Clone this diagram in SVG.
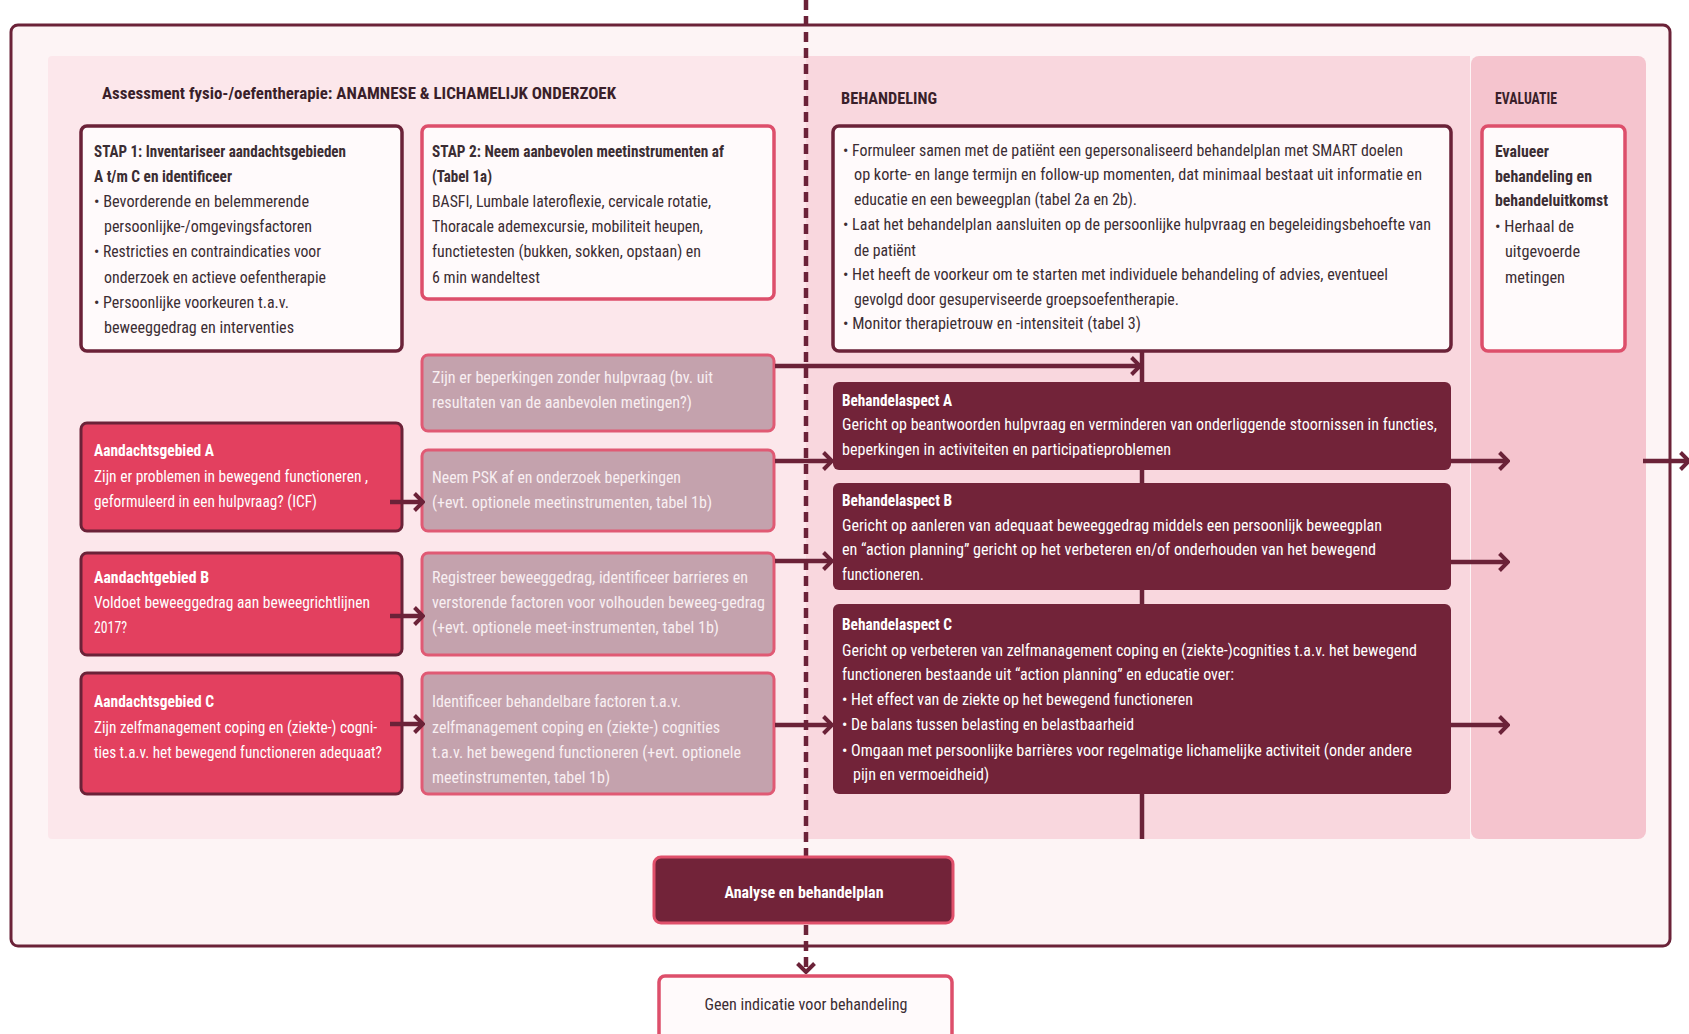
<svg xmlns="http://www.w3.org/2000/svg" width="1689" height="1034" viewBox="0 0 1689 1034">
<style>
text{font-family:"Liberation Sans Narrow","Roboto Condensed","DejaVu Sans Condensed","Liberation Sans",sans-serif;font-size:17px;fill:#3b2d33}
.b{font-weight:bold}
.h{font-size:16px;font-weight:bold;fill:#3a1f2a}
.w{fill:#ffffff}
.g{fill:#f8eff2}
.box-w{fill:#fffafb;stroke-width:3.5}
.dk{stroke:#6b2238}
.pk{stroke:#dd4f6b}
.red{fill:#e3405f;stroke:#6b2238;stroke-width:3}
.gray{fill:#c4a2ad;stroke:#e05a74;stroke-width:3}
.mar{fill:#722339}
.c{fill:none;stroke:#6b2238;stroke-width:4.5}
</style>
<defs>
<marker id="arr" viewBox="0 0 12 20" refX="10" refY="10" markerWidth="12" markerHeight="20" markerUnits="userSpaceOnUse" orient="auto">
<path d="M1.5,1.5 L10,10 L1.5,18.5" fill="none" stroke="#6b2238" stroke-width="4"/>
</marker>
</defs>
<rect width="1689" height="1034" fill="#ffffff"/>
<g id="background">
<rect x="11" y="25" width="1659" height="921" rx="7" fill="#fdf4f5" stroke="#6b2238" stroke-width="3"/>
<rect x="48" y="56" width="758" height="783" rx="4" fill="#fce7eb"/>
<rect x="806" y="56" width="664" height="783" fill="#f9d7de"/>
<rect x="1471" y="56" width="175" height="783" rx="8" fill="#f5c4ce"/>
<text class="h" x="102" y="99" textLength="514" lengthAdjust="spacingAndGlyphs">Assessment fysio-/oefentherapie: ANAMNESE &amp; LICHAMELIJK ONDERZOEK</text>
<text class="h" x="841" y="104" textLength="96" lengthAdjust="spacingAndGlyphs">BEHANDELING</text>
<text class="h" x="1495" y="104" textLength="62" lengthAdjust="spacingAndGlyphs">EVALUATIE</text>
</g>
<g id="stap1">
<rect class="box-w dk" x="81" y="126" width="321" height="225" rx="6"/>
<text class="b" x="94" y="157" textLength="252" lengthAdjust="spacingAndGlyphs">STAP 1: Inventariseer aandachtsgebieden</text>
<text class="b" x="94" y="182" textLength="138" lengthAdjust="spacingAndGlyphs">A t/m C en identificeer</text>
<text x="94" y="207" textLength="215" lengthAdjust="spacingAndGlyphs">• Bevorderende en belemmerende</text>
<text x="104" y="232" textLength="208" lengthAdjust="spacingAndGlyphs">persoonlijke-/omgevingsfactoren</text>
<text x="94" y="257" textLength="227" lengthAdjust="spacingAndGlyphs">• Restricties en contraindicaties voor</text>
<text x="104" y="283" textLength="222" lengthAdjust="spacingAndGlyphs">onderzoek en actieve oefentherapie</text>
<text x="94" y="308" textLength="195" lengthAdjust="spacingAndGlyphs">• Persoonlijke voorkeuren t.a.v.</text>
<text x="104" y="333" textLength="190" lengthAdjust="spacingAndGlyphs">beweeggedrag en interventies</text>
</g>
<g id="stap2">
<rect class="box-w pk" x="422" y="126" width="352" height="173" rx="6"/>
<text class="b" x="432" y="157" textLength="292" lengthAdjust="spacingAndGlyphs">STAP 2: Neem aanbevolen meetinstrumenten af</text>
<text class="b" x="432" y="182" textLength="60" lengthAdjust="spacingAndGlyphs">(Tabel 1a)</text>
<text x="432" y="207" textLength="279" lengthAdjust="spacingAndGlyphs">BASFI, Lumbale lateroflexie, cervicale rotatie,</text>
<text x="432" y="232" textLength="271" lengthAdjust="spacingAndGlyphs">Thoracale ademexcursie, mobiliteit heupen,</text>
<text x="432" y="257" textLength="269" lengthAdjust="spacingAndGlyphs">functietesten (bukken, sokken, opstaan) en</text>
<text x="432" y="283" textLength="108" lengthAdjust="spacingAndGlyphs">6 min wandeltest</text>
</g>
<g id="behandeling">
<rect class="box-w dk" x="833" y="126" width="618" height="225" rx="6"/>
<text x="843" y="156" textLength="560" lengthAdjust="spacingAndGlyphs">• Formuleer samen met de patiënt een gepersonaliseerd behandelplan met SMART doelen</text>
<text x="854" y="180" textLength="568" lengthAdjust="spacingAndGlyphs">op korte- en lange termijn en follow-up momenten, dat minimaal bestaat uit informatie en</text>
<text x="854" y="205" textLength="283" lengthAdjust="spacingAndGlyphs">educatie en een beweegplan (tabel 2a en 2b).</text>
<text x="843" y="230" textLength="588" lengthAdjust="spacingAndGlyphs">• Laat het behandelplan aansluiten op de persoonlijke hulpvraag en begeleidingsbehoefte van</text>
<text x="854" y="256" textLength="62" lengthAdjust="spacingAndGlyphs">de patiënt</text>
<text x="843" y="280" textLength="545" lengthAdjust="spacingAndGlyphs">• Het heeft de voorkeur om te starten met individuele behandeling of advies, eventueel</text>
<text x="854" y="305" textLength="325" lengthAdjust="spacingAndGlyphs">gevolgd door gesuperviseerde groepsoefentherapie.</text>
<text x="843" y="329" textLength="298" lengthAdjust="spacingAndGlyphs">• Monitor therapietrouw en -intensiteit (tabel 3)</text>
</g>
<g id="evalueer">
<rect class="box-w pk" x="1482" y="126" width="143" height="225" rx="6"/>
<text class="b" x="1495" y="157" textLength="54" lengthAdjust="spacingAndGlyphs">Evalueer</text>
<text class="b" x="1495" y="182" textLength="97" lengthAdjust="spacingAndGlyphs">behandeling en</text>
<text class="b" x="1495" y="206" textLength="113" lengthAdjust="spacingAndGlyphs">behandeluitkomst</text>
<text x="1495" y="232" textLength="79" lengthAdjust="spacingAndGlyphs">• Herhaal de</text>
<text x="1505" y="257" textLength="75" lengthAdjust="spacingAndGlyphs">uitgevoerde</text>
<text x="1505" y="283" textLength="60" lengthAdjust="spacingAndGlyphs">metingen</text>
</g>
<g id="vraag-beperkingen">
<rect class="gray" x="422" y="355" width="352" height="76" rx="6"/>
<text class="g" x="432" y="383" textLength="281" lengthAdjust="spacingAndGlyphs">Zijn er beperkingen zonder hulpvraag (bv. uit</text>
<text class="g" x="432" y="408" textLength="260" lengthAdjust="spacingAndGlyphs">resultaten van de aanbevolen metingen?)</text>
</g>
<g id="aandachtsgebied-a">
<rect class="red" x="81" y="423" width="321" height="108" rx="6"/>
<text class="w b" x="94" y="456" textLength="120" lengthAdjust="spacingAndGlyphs">Aandachtsgebied A</text>
<text class="w" x="94" y="482" textLength="274" lengthAdjust="spacingAndGlyphs">Zijn er problemen in bewegend functioneren ,</text>
<text class="w" x="94" y="507" textLength="223" lengthAdjust="spacingAndGlyphs">geformuleerd in een hulpvraag? (ICF)</text>
</g>
<g id="psk">
<rect class="gray" x="422" y="450" width="352" height="81" rx="6"/>
<text class="g" x="432" y="483" textLength="249" lengthAdjust="spacingAndGlyphs">Neem PSK af en onderzoek beperkingen</text>
<text class="g" x="432" y="508" textLength="280" lengthAdjust="spacingAndGlyphs">(+evt. optionele meetinstrumenten, tabel 1b)</text>
</g>
<g id="aandachtsgebied-b">
<rect class="red" x="81" y="553" width="321" height="102" rx="6"/>
<text class="w b" x="94" y="583" textLength="115" lengthAdjust="spacingAndGlyphs">Aandachtgebied B</text>
<text class="w" x="94" y="608" textLength="276" lengthAdjust="spacingAndGlyphs">Voldoet beweeggedrag aan beweegrichtlijnen</text>
<text class="w" x="94" y="633" textLength="33" lengthAdjust="spacingAndGlyphs">2017?</text>
</g>
<g id="registreer">
<rect class="gray" x="422" y="553" width="352" height="102" rx="6"/>
<text class="g" x="432" y="583" textLength="316" lengthAdjust="spacingAndGlyphs">Registreer beweeggedrag, identificeer barrieres en</text>
<text class="g" x="432" y="608" textLength="333" lengthAdjust="spacingAndGlyphs">verstorende factoren voor volhouden beweeg-gedrag</text>
<text class="g" x="432" y="633" textLength="287" lengthAdjust="spacingAndGlyphs">(+evt. optionele meet-instrumenten, tabel 1b)</text>
</g>
<g id="aandachtsgebied-c">
<rect class="red" x="81" y="673" width="321" height="121" rx="6"/>
<text class="w b" x="94" y="707" textLength="120" lengthAdjust="spacingAndGlyphs">Aandachtsgebied C</text>
<text class="w" x="94" y="733" textLength="283" lengthAdjust="spacingAndGlyphs">Zijn zelfmanagement coping en (ziekte-) cogni-</text>
<text class="w" x="94" y="758" textLength="288" lengthAdjust="spacingAndGlyphs">ties t.a.v. het bewegend functioneren adequaat?</text>
</g>
<g id="identificeer">
<rect class="gray" x="422" y="673" width="352" height="121" rx="6"/>
<text class="g" x="432" y="707" textLength="249" lengthAdjust="spacingAndGlyphs">Identificeer behandelbare factoren t.a.v.</text>
<text class="g" x="432" y="733" textLength="288" lengthAdjust="spacingAndGlyphs">zelfmanagement coping en (ziekte-) cognities</text>
<text class="g" x="432" y="758" textLength="309" lengthAdjust="spacingAndGlyphs">t.a.v. het bewegend functioneren (+evt. optionele</text>
<text class="g" x="432" y="783" textLength="178" lengthAdjust="spacingAndGlyphs">meetinstrumenten, tabel 1b)</text>
</g>
<g id="connectors">
<line class="c" x1="1142" y1="351" x2="1142" y2="383"/>
<line class="c" x1="1142" y1="469" x2="1142" y2="484"/>
<line class="c" x1="1142" y1="589" x2="1142" y2="605"/>
<line class="c" x1="1142" y1="793" x2="1142" y2="839"/>
<line class="c" x1="390" y1="502" x2="423" y2="502" marker-end="url(#arr)"/>
<line class="c" x1="390" y1="616" x2="423" y2="616" marker-end="url(#arr)"/>
<line class="c" x1="390" y1="724" x2="423" y2="724" marker-end="url(#arr)"/>
<line class="c" x1="775" y1="366" x2="1140" y2="366" marker-end="url(#arr)"/>
<line class="c" x1="775" y1="461" x2="832" y2="461" marker-end="url(#arr)"/>
<line class="c" x1="775" y1="561" x2="832" y2="561" marker-end="url(#arr)"/>
<line class="c" x1="775" y1="725" x2="832" y2="725" marker-end="url(#arr)"/>
<line class="c" x1="1451" y1="461" x2="1508" y2="461" marker-end="url(#arr)"/>
<line class="c" x1="1451" y1="562" x2="1508" y2="562" marker-end="url(#arr)"/>
<line class="c" x1="1451" y1="725" x2="1508" y2="725" marker-end="url(#arr)"/>
<line class="c" x1="1643" y1="461" x2="1689" y2="461" marker-end="url(#arr)"/>
<line class="c" x1="806" y1="0" x2="806" y2="857" stroke-width="3.5" stroke-dasharray="10 6"/>
<line class="c" x1="806" y1="925" x2="806" y2="972" stroke-width="3.5" stroke-dasharray="10 6" marker-end="url(#arr)"/>
</g>
<g id="behandelaspect-a">
<rect class="mar" x="833" y="382" width="618" height="88" rx="6"/>
<text class="w b" x="842" y="406" textLength="110" lengthAdjust="spacingAndGlyphs">Behandelaspect A</text>
<text class="w" x="842" y="430" textLength="595" lengthAdjust="spacingAndGlyphs">Gericht op beantwoorden hulpvraag en verminderen van onderliggende stoornissen in functies,</text>
<text class="w" x="842" y="455" textLength="329" lengthAdjust="spacingAndGlyphs">beperkingen in activiteiten en participatieproblemen</text>
</g>
<g id="behandelaspect-b">
<rect class="mar" x="833" y="483" width="618" height="107" rx="6"/>
<text class="w b" x="842" y="506" textLength="110" lengthAdjust="spacingAndGlyphs">Behandelaspect B</text>
<text class="w" x="842" y="531" textLength="540" lengthAdjust="spacingAndGlyphs">Gericht op aanleren van adequaat beweeggedrag middels een persoonlijk beweegplan</text>
<text class="w" x="842" y="555" textLength="534" lengthAdjust="spacingAndGlyphs">en “action planning” gericht op het verbeteren en/of onderhouden van het bewegend</text>
<text class="w" x="842" y="580" textLength="82" lengthAdjust="spacingAndGlyphs">functioneren.</text>
</g>
<g id="behandelaspect-c">
<rect class="mar" x="833" y="604" width="618" height="190" rx="6"/>
<text class="w b" x="842" y="630" textLength="110" lengthAdjust="spacingAndGlyphs">Behandelaspect C</text>
<text class="w" x="842" y="656" textLength="575" lengthAdjust="spacingAndGlyphs">Gericht op verbeteren van zelfmanagement coping en (ziekte-)cognities t.a.v. het bewegend</text>
<text class="w" x="842" y="680" textLength="392" lengthAdjust="spacingAndGlyphs">functioneren bestaande uit “action planning” en educatie over:</text>
<text class="w" x="842" y="705" textLength="351" lengthAdjust="spacingAndGlyphs">• Het effect van de ziekte op het bewegend functioneren</text>
<text class="w" x="842" y="730" textLength="292" lengthAdjust="spacingAndGlyphs">• De balans tussen belasting en belastbaarheid</text>
<text class="w" x="842" y="756" textLength="570" lengthAdjust="spacingAndGlyphs">• Omgaan met persoonlijke barrières voor regelmatige lichamelijke activiteit (onder andere</text>
<text class="w" x="853" y="780" textLength="136" lengthAdjust="spacingAndGlyphs">pijn en vermoeidheid)</text>
</g>
<g id="analyse">
<rect x="654" y="857" width="299" height="66" rx="7" fill="#722339" stroke="#e0506b" stroke-width="3"/>
<text class="w b" x="804" y="898" text-anchor="middle" textLength="159" lengthAdjust="spacingAndGlyphs">Analyse en  behandelplan</text>
</g>
<g id="geen-indicatie">
<rect class="box-w pk" x="659" y="976" width="293" height="72" rx="6"/>
<text x="806" y="1010" text-anchor="middle" textLength="203" lengthAdjust="spacingAndGlyphs">Geen indicatie voor behandeling</text>
</g>
</svg>
